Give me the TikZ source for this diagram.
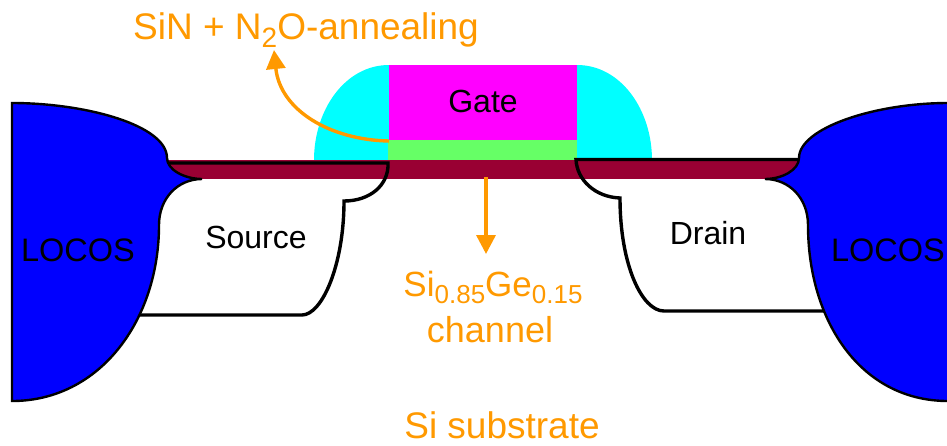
\documentclass[tikz,border=0pt]{standalone}
\usepackage{fontspec}
\setmainfont{Liberation Sans}
\usetikzlibrary{arrows.meta}
\definecolor{orng}{HTML}{FF9900}
\definecolor{maroon}{HTML}{990033}
\definecolor{lgreen}{HTML}{66FF66}
\definecolor{pmagenta}{HTML}{FF00FF}
\definecolor{pcyan}{HTML}{00FFFF}
\tikzset{
  lab/.style={inner sep=0pt,font=\fontsize{32}{34}\selectfont,text=black},
  olab/.style={inner sep=0pt,font=\fontsize{37}{38}\selectfont,text=orng},
  oarrow/.style={draw=orng,line width=3.4pt,-{Triangle[width=19pt,length=19pt]}},
  outline/.style={draw=black,line width=3.4pt},
  locos/.style={fill=blue,draw=black,line width=2.4pt}
}
\begin{document}
\begin{tikzpicture}[x=1pt,y=-1pt]
\useasboundingbox (0,0) rectangle (947,445);
% spacers
\fill[pcyan] (314,160) .. controls (314,110) and (345,65) .. (389,65) -- (389,160) -- cycle;
\fill[pcyan] (652,160) .. controls (652,110) and (621,65) .. (577,65) -- (577,160) -- cycle;
\fill[pmagenta] (389,65) rectangle (577,140);
\fill[lgreen] (388,140) rectangle (577,160);
\fill[maroon] (168,160) rectangle (800,179);
% source and drain outlines
\draw[outline] (140,315) -- (302,315) .. controls (322,315) and (344,265) .. (344,201) .. controls (370,201) and (389,185) .. (388,163) -- (168,163);
\draw[outline] (825,311) -- (664,311) .. controls (642,311) and (620,265) .. (620,198) .. controls (595,197) and (577,180) .. (576,159.5) -- (799,159.5);
% LOCOS
\draw[locos] (12,103) .. controls (85,103) and (167,125) .. (167,158) .. controls (167,170) and (185,179) .. (202,179) .. controls (178,179) and (159,198) .. (159,225) .. controls (159,320) and (100,401) .. (12,401) -- cycle;
\draw[locos] (948,103) .. controls (875,103) and (799,128) .. (799,158) .. controls (799,170) and (782,179) .. (765,179) .. controls (789,179) and (808,198) .. (808,225) .. controls (808,320) and (860,401) .. (948,401);
% labels
\node[lab] (gate) at (483,101) {Gate};
\node[lab] (source) at (256,237) {Source};
\node[lab] (drain) at (708,233) {Drain};
\node[lab,font=\fontsize{32.5}{34}\selectfont] (locosL) at (78,250) {LOCOS};
\node[lab,font=\fontsize{32.5}{34}\selectfont] (locosR) at (888,250) {LOCOS};
\node[olab,anchor=base west] (sin) at (133,39) {SiN + N\raisebox{-8pt}{\fontsize{28}{28}\selectfont 2}O-annealing};
\node[olab,font=\fontsize{35}{38}\selectfont,anchor=base] (sige) at (493,296) {Si\raisebox{-7pt}{\fontsize{26}{26}\selectfont 0.85}Ge\raisebox{-7pt}{\fontsize{26}{26}\selectfont 0.15}};
\node[olab,font=\fontsize{36}{38}\selectfont,anchor=base] (chan) at (490,342) {channel};
\node[olab,font=\fontsize{37}{38}\selectfont,anchor=base] (sub) at (502,438) {Si substrate};
% arrows
\coordinate (gox) at (389,141);
\coordinate (arrL) at (274,50);
\coordinate (chtop) at (486,177);
\coordinate (chend) at (486,254);
\draw[oarrow] (gox) .. controls (330,140) and (280,110) .. (arrL);
\draw[oarrow] (chtop) -- (chend);
\end{tikzpicture}
\end{document}
